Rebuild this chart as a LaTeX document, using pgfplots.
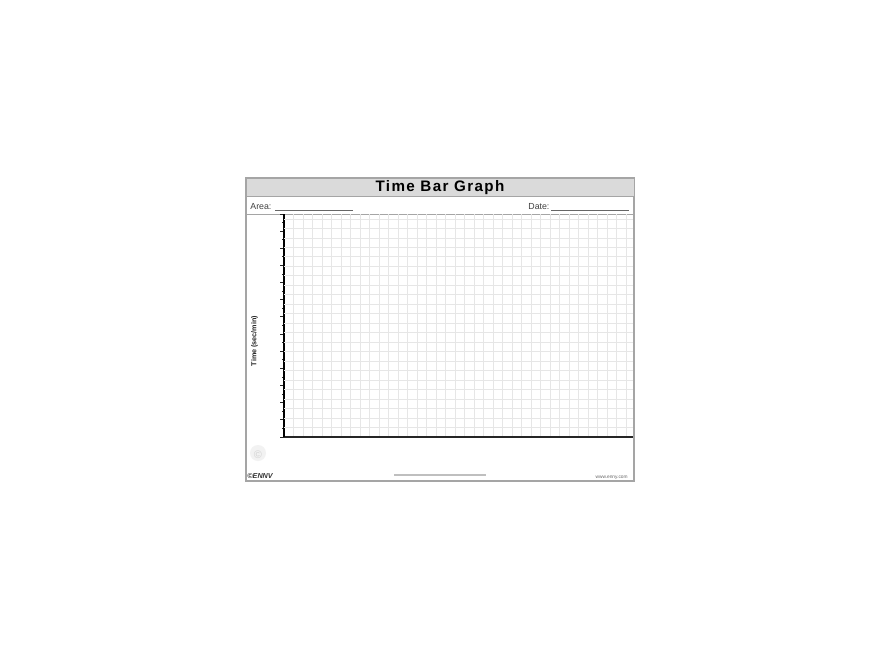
\documentclass[border=0pt]{standalone}
\usepackage{pgfplots}
\pgfplotsset{compat=1.18}
\usepackage{fontspec}
\setmainfont{Liberation Sans}
\newfontfamily\titlefont[LetterSpace=9]{Liberation Sans}
\definecolor{gridgray}{RGB}{230,230,230}
\definecolor{framegray}{RGB}{165,165,165}
\definecolor{barfill}{RGB}{218,218,218}
\begin{document}
\begin{tikzpicture}
\begin{scope}[x=0.5pt,y=-0.5pt]
\path[fill=white] (0,0) rectangle (880,660);
% form frame
\draw[framegray, line width=0.6pt] (246,178) rectangle (634,481);
\draw[draw=framegray, fill=barfill, line width=0.5pt] (246,178) rectangle (634,196);
\node[font=\titlefont\bfseries\fontsize{7.6}{9}\selectfont] at (440,187.5) {Time Bar Graph};
\draw[framegray, line width=0.5pt] (246,214) -- (634,214);
\node[anchor=west, inner sep=0pt, font=\fontsize{4.4}{5}\selectfont, text=black!75] at (250,206.5) {Area:};
\draw[black!60, line width=0.3pt] (275,210) -- (353,210);
\node[anchor=west, inner sep=0pt, font=\fontsize{4.4}{5}\selectfont, text=black!75] at (528,206.5) {Date:};
\draw[black!60, line width=0.3pt] (551,210) -- (629,210);
% y label
\node[rotate=90, inner sep=0pt, font=\bfseries\fontsize{3.6}{4}\selectfont, text=black!85] at (254.5,341) {Time (sec/min)};
% footer
\fill[gray!10] (258,453) circle (8);
\node[text=gray!30, font=\bfseries\fontsize{5.5}{5}\selectfont] at (258,455) {©};
\node[anchor=west, inner sep=0pt, font=\bfseries\itshape\fontsize{3.6}{4}\selectfont, text=black!80] at (247,476.5) {©ENNV};
\draw[gray!50, line width=0.6pt] (394,475) -- (486,475);
\node[anchor=east, inner sep=0pt, font=\fontsize{2.4}{3}\selectfont, text=black!60] at (628,477.5) {www.enny.com};
\end{scope}
\begin{axis}[
  at={(142pt,-218.5pt)}, anchor=south west,
  width=174.5pt, height=111.5pt, scale only axis,
  xmin=0, xmax=36.74, ymin=0, ymax=23.53,
  axis lines=left, axis line style={line width=1pt, -},
  x axis line style={black!85},
  xtick={1,2,...,36}, xticklabels={}, xmajorgrids,
  x tick style={draw=none},
  ytick={0,1.81,...,23.6}, yticklabels={},
  minor y tick num=1,
  y tick style={line width=0.45pt, black!85},
  tick align=outside,
  major tick length=1.8pt, minor tick length=1pt,
  extra y ticks={1,2,...,23}, extra y tick labels={},
  extra y tick style={ymajorgrids=true, y tick style={draw=none}},
  grid style={gridgray, line width=0.45pt},
  clip=false,
]
\addplot[draw=none] coordinates {(0,0)};
\end{axis}
\end{tikzpicture}
\end{document}
